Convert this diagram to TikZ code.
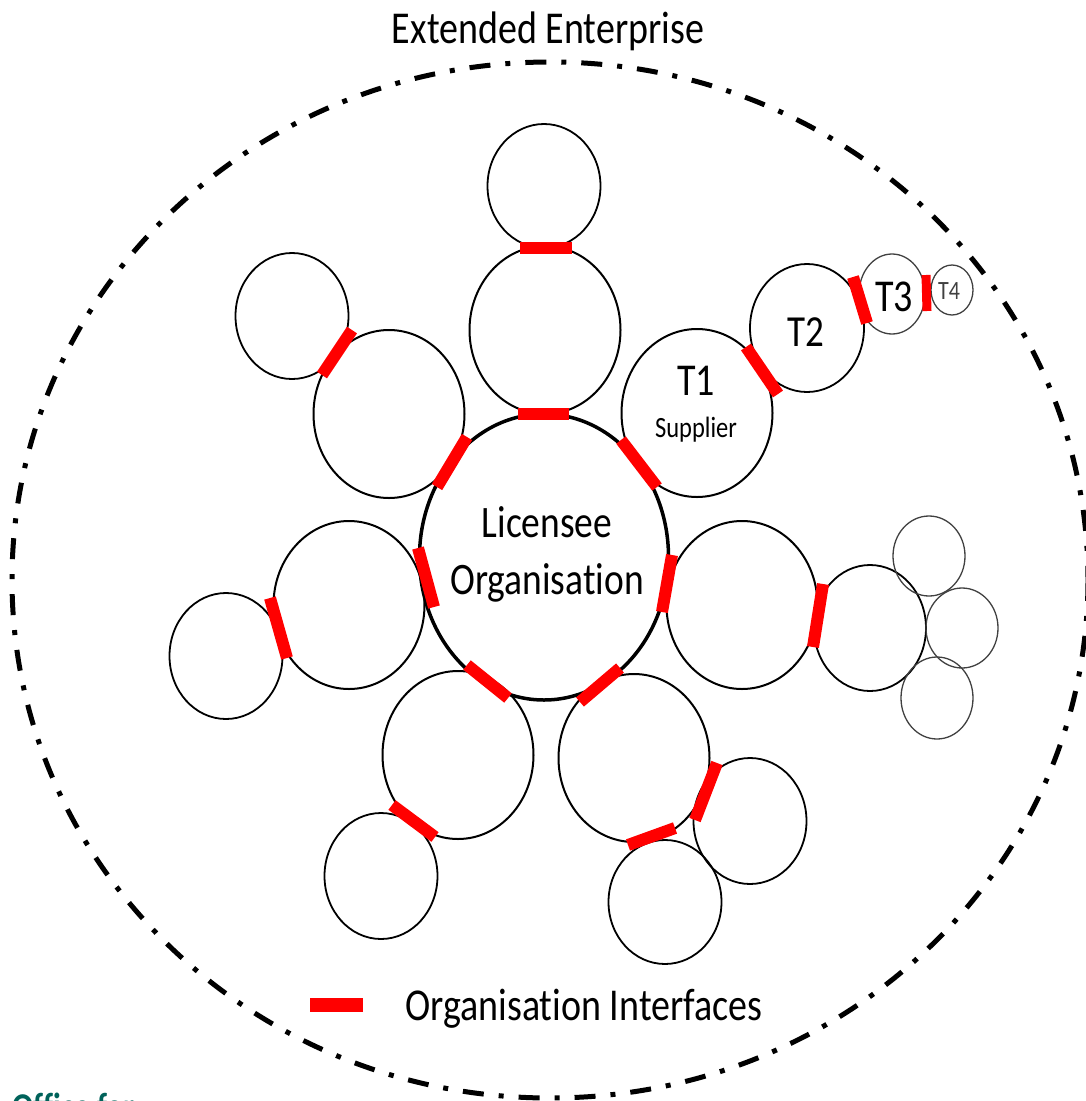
\documentclass[tikz,border=0pt]{standalone}
\usepackage{fontspec}
\setmainfont{Carlito}[Ligatures=NoCommon]
\usepackage{graphicx}
\usetikzlibrary{shapes.geometric}

\definecolor{officeteal}{RGB}{0,98,90}
\newcommand{\tall}[1]{\scalebox{1}[1.2]{#1}}

\begin{document}
\begin{tikzpicture}[
        x=1pt, y=-1pt,
        org/.style={draw, ellipse, inner sep=0pt, outer sep=0pt, line width=2pt},
        bigfirm/.style={org, minimum width=151pt, minimum height=168pt},
        smallfirm/.style={org, line width=1.8pt, minimum width=113pt, minimum height=126pt},
        farfirm/.style={org, line width=1.3pt, draw=black!75},
        iface/.style={draw=red, line width=12pt},
        tag/.style={inner sep=0pt, anchor=base, font=\fontsize{38}{45}\selectfont},
        enterprise/.style={line width=5pt, dash pattern=on 21pt off 15pt on 5pt off 15pt}
    ]

    \useasboundingbox (0,0) rectangle (1085,1101);

    % Boundary
    \draw[enterprise] (550,580) ellipse [x radius=538, y radius=518];
    \node[tag] (title) at (548,43) {\tall{Extended Enterprise}};

    % Nodes
    \node[org, line width=3.5pt, minimum width=249pt, minimum height=286pt] (lic) at (544,557) {};

    \node[bigfirm] (top) at (545,330) {};
    \node[smallfirm, minimum height=124pt] (topout) at (544,186) {};

    \node[bigfirm] (t1) at (697,413) {};
    \node[smallfirm, minimum width=114pt, minimum height=128pt] (t2) at (807,328) {};
    \node[farfirm, minimum width=66pt, minimum height=80pt] (t3) at (892,294) {};
    \node[farfirm, minimum width=42pt, minimum height=50pt] (t4) at (952,290) {};

    \node[bigfirm] (right) at (742,605) {};
    \node[smallfirm, minimum width=112pt] (rightout) at (870,628) {};
    \node[farfirm, minimum width=72pt, minimum height=80pt] (righta) at (929,556) {};
    \node[farfirm, minimum width=72pt, minimum height=80pt] (rightb) at (962,628) {};
    \node[farfirm, minimum width=72pt, minimum height=82pt] (rightc) at (937,698) {};

    \node[bigfirm] (botr) at (634,758) {};
    \node[smallfirm] (botrside) at (750,821) {};
    \node[smallfirm, minimum height=124pt] (botrdown) at (665,902) {};

    \node[bigfirm] (botl) at (458,755) {};
    \node[smallfirm] (botlout) at (381,876) {};

    \node[bigfirm] (left) at (349,605) {};
    \node[smallfirm] (leftout) at (226,656) {};

    \node[bigfirm] (upleft) at (389,414) {};
    \node[smallfirm] (upleftout) at (292,316) {};

    % Labels
    \node[tag, font=\fontsize{37.5}{45}\selectfont] (licname) at (547,537) {\tall{Licensee}};
    \node[tag, font=\fontsize{37.5}{45}\selectfont] (licorg) at (547,594) {\tall{Organisation}};
    \node[tag] (t1name) at (696,395) {\tall{T1}};
    \node[tag, font=\fontsize{24.5}{30}\selectfont] (t1role) at (696,437) {\tall{Supplier}};
    \node[tag, font=\fontsize{37}{45}\selectfont] (t2name) at (806,346) {\tall{T2}};
    \node[tag] (t3name) at (894,311) {\tall{T3}};
    \node[tag, font=\fontsize{22}{26}\selectfont, text=black!75] (t4name) at (949,299) {\tall{T4}};

    % Interfaces
    \draw[iface] (520,248) -- (572,248);   % topout / top
    \draw[iface] (518,414) -- (569,414);   % top / lic
    \draw[iface] (621,440) -- (657,487);   % lic / t1
    \draw[iface] (746,347) -- (778,394);   % t1 / t2
    \draw[iface] (853,277) -- (867,323);   % t2 / t3
    \draw[iface, line width=9pt] (926,275) -- (927,311);   % t3 / t4
    \draw[iface] (672,555) -- (662,612);   % lic / right
    \draw[iface] (823,584) -- (813,647);   % right / rightout
    \draw[iface] (467,437) -- (437,487);   % lic / upleft
    \draw[iface] (352,330) -- (322,375);   % upleft / upleftout
    \draw[iface] (418,548) -- (434,607);   % lic / left
    \draw[iface] (270,598) -- (287,658);   % left / leftout
    \draw[iface] (467,665) -- (508,698);   % lic / botl
    \draw[iface] (392,805) -- (435,837);   % botl / botlout
    \draw[iface] (580,702) -- (620,668);   % lic / botr
    \draw[iface] (717,763) -- (695,820);   % botr / botrside
    \draw[iface] (628,845) -- (675,828);   % botr / botrdown

    % Legend
    \coordinate (keyleft) at (310,1005);
    \coordinate (keyright) at (363,1005);
    \draw[iface, line width=14pt] (keyleft) -- (keyright);
    \node[tag, anchor=base west] (keytext) at (405,1020) {\tall{Organisation Interfaces}};

    \node[anchor=base west, inner sep=0pt, text=officeteal,
          font=\fontsize{31.5}{36}\selectfont\bfseries] (office) at (12,1119) {\tall{Office for}};

\end{tikzpicture}
\end{document}
